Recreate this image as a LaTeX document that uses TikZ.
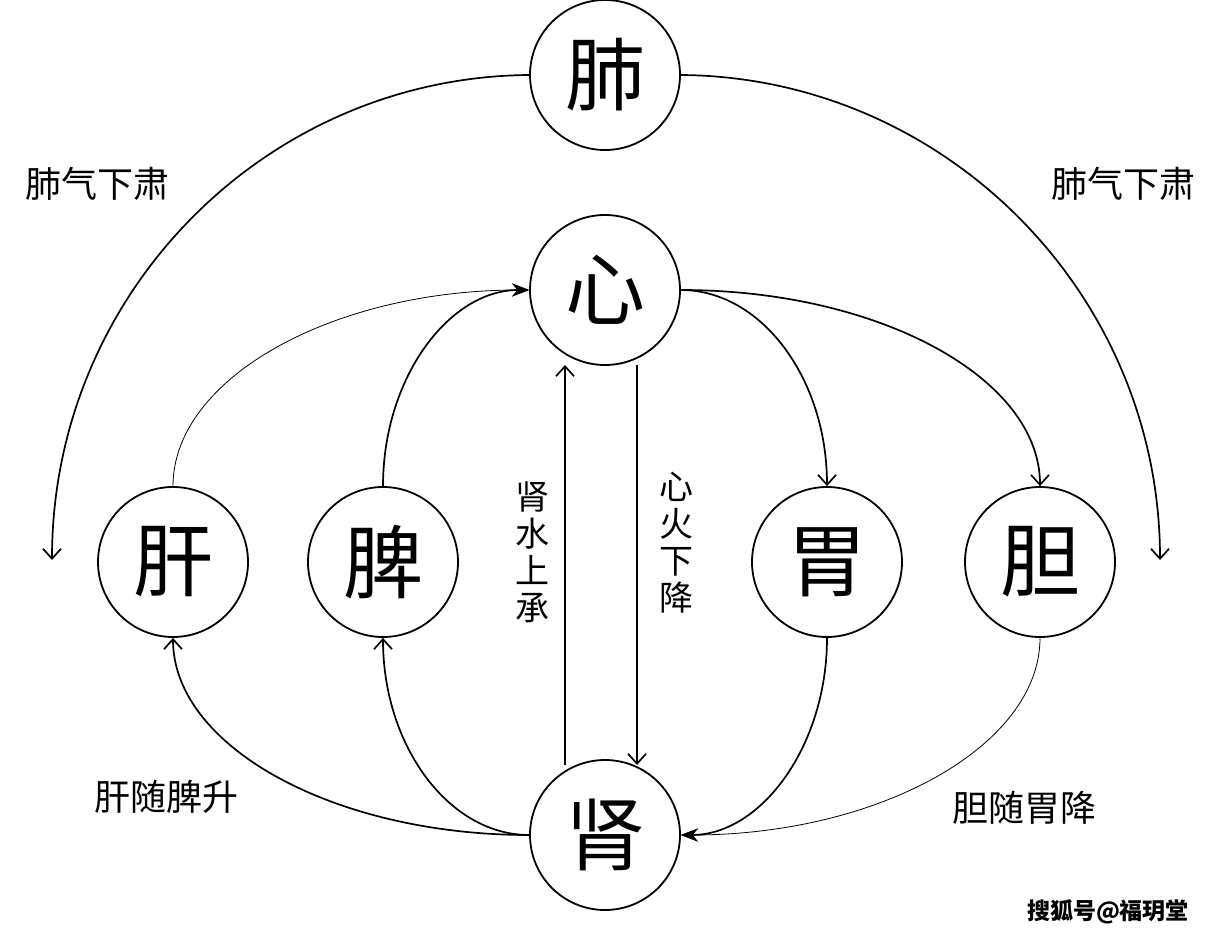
\documentclass[tikz,border=0pt]{standalone}
\usepackage{fontspec}
\setmainfont{Noto Sans CJK SC}
\usetikzlibrary{arrows.meta}
\begin{document}
\begin{tikzpicture}[x=1pt,y=-1pt,
  organ/.style={circle,draw,line width=1.8pt,minimum size=150pt,inner sep=0pt,font=\fontsize{80}{82}\selectfont},
  lbl/.style={font=\fontsize{36}{38}\selectfont,inner sep=0pt},
  vlbl/.style={font=\fontsize{34}{37}\selectfont,inner sep=0pt,align=center},
  conn/.style={line width=1.7pt},
  thin/.style={line width=0.8pt},
  open/.style={-{Straight Barb[length=10pt,width=18pt,line width=1.7pt]}},
  solid/.style={-{Stealth[length=17pt,width=13pt]}}]
\useasboundingbox (0,0) rectangle (1223,939);
\node[organ] (fei) at (605,75) {肺};
\node[organ] (xin) at (605,290) {心};
\node[organ] (gan) at (173,562) {肝};
\node[organ] (pi) at (383,562) {脾};
\node[organ] (wei) at (827,562) {胃};
\node[organ] (dan) at (1040,562) {胆};
\node[organ] (shen) at (605,835) {肾};
\coordinate (lend) at (52,560);
\coordinate (rend) at (1160,560);
\coordinate (upbot) at (565,765);
\coordinate (uptop) at (565,365);
\coordinate (dntop) at (637,365);
\coordinate (dnbot) at (637,765);
% lung arcs
\draw[conn,open] (fei.west) .. controls (266,77) and (52,293) .. (lend);
\draw[conn,open] (fei.east) .. controls (944,77) and (1160,293) .. (rend);
% to heart
\draw[thin,solid] (gan.north) .. controls (173,378) and (333,290) .. (xin.west);
\draw[conn,solid] (pi.north) .. controls (383,378) and (449,290) .. (xin.west);
% from heart
\draw[conn,open] (xin.east) .. controls (761,290) and (827,378) .. (wei.north);
\draw[conn,open] (xin.east) .. controls (879,290) and (1040,378) .. (dan.north);
% vertical
\draw[conn,open] (upbot) -- (uptop);
\draw[conn,open] (dntop) -- (dnbot);
% from kidney
\draw[conn,open] (shen.west) .. controls (333,835) and (173,746) .. (gan.south);
\draw[conn,open] (shen.west) .. controls (449,835) and (383,746) .. (pi.south);
% to kidney
\draw[conn,solid] (wei.south) .. controls (827,746) and (761,835) .. (shen.east);
\draw[thin,solid] (dan.south) .. controls (1040,746) and (879,835) .. (shen.east);
% labels
\node[lbl] (l1) at (97,184) {肺气下肃};
\node[lbl] (l2) at (1123,184) {肺气下肃};
\node[lbl] (l3) at (166,797) {肝随脾升};
\node[lbl] (l4) at (1024,808) {胆随胃降};
\node[vlbl] (v1) at (532,552) {肾\\水\\上\\承};
\node[vlbl] (v2) at (676,543) {心\\火\\下\\降};
\node[font=\bfseries\fontsize{23}{24}\selectfont,inner sep=0pt] (wm) at (1108,912) {搜狐号@福玥堂};
\end{tikzpicture}
\end{document}
